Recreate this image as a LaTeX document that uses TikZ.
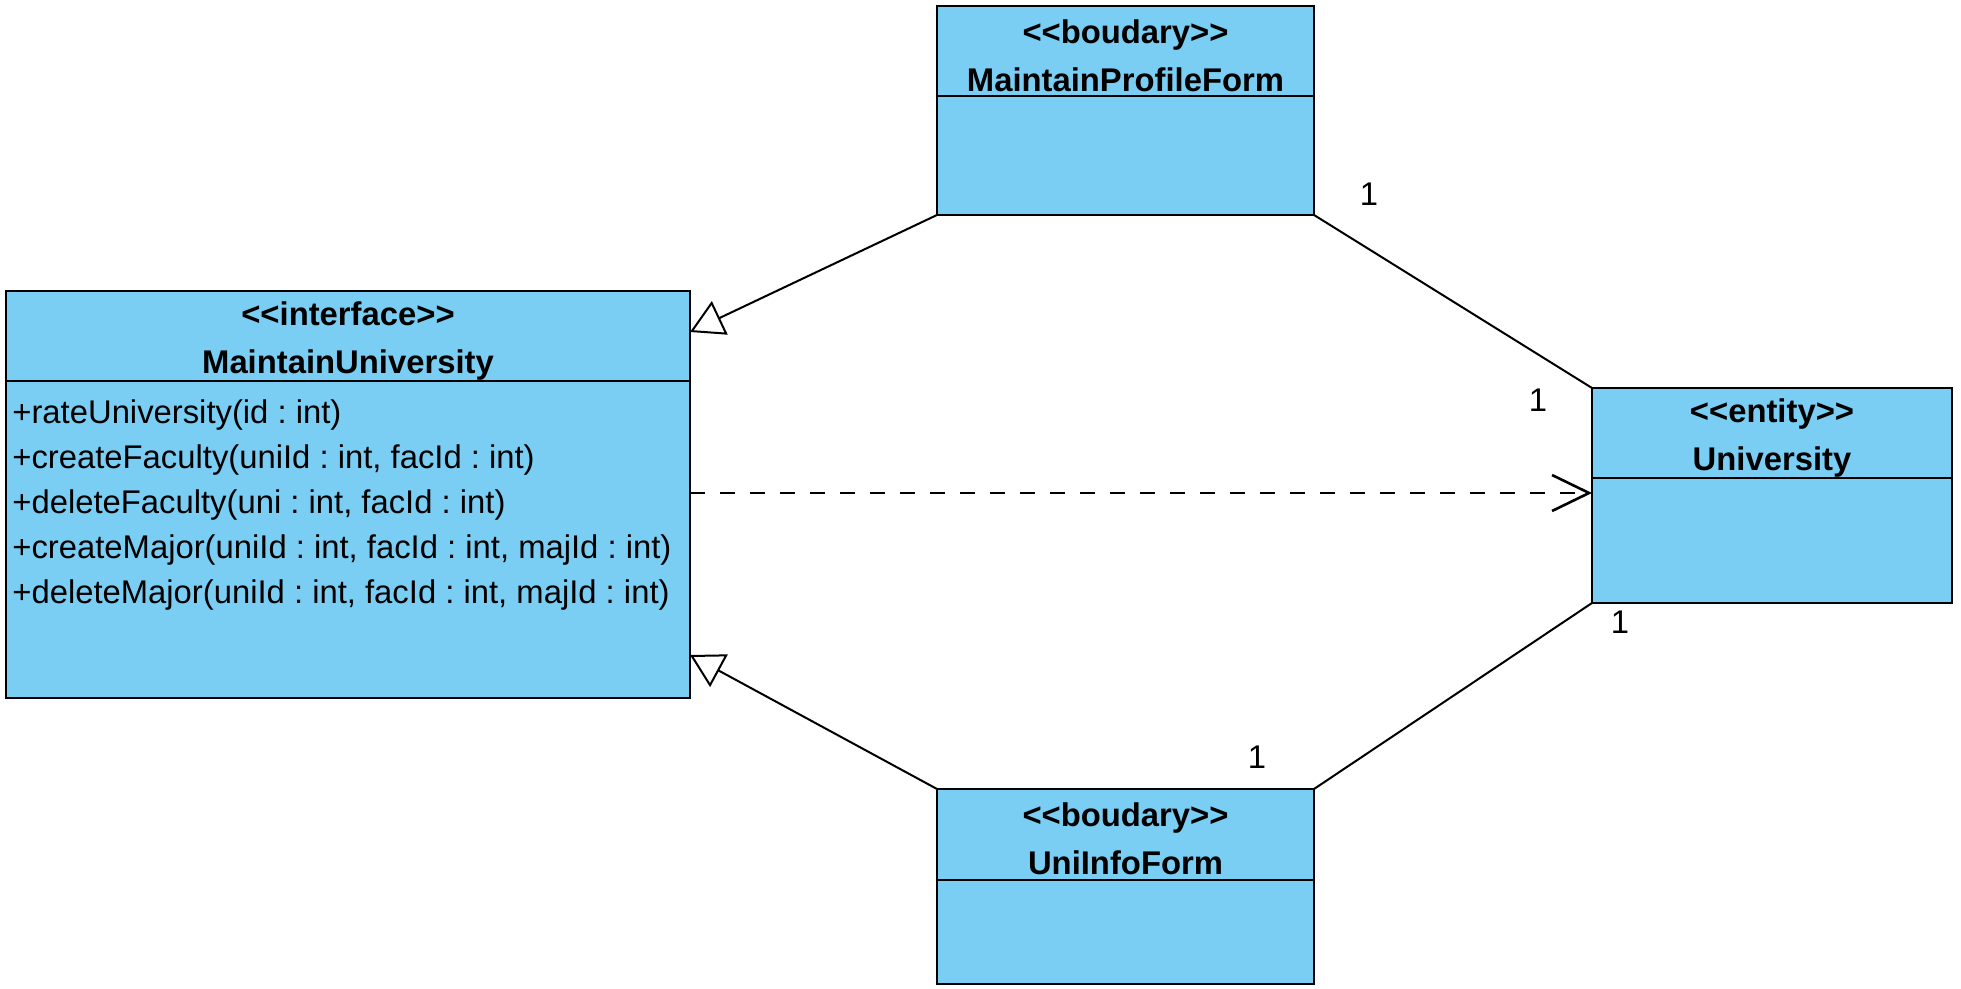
\documentclass[tikz,border=0pt]{standalone}
\usepackage{fontspec}
\setmainfont{Liberation Sans}
\usepackage{xcolor}
\usepackage{tikz}
\usetikzlibrary{arrows.meta,positioning}
\definecolor{classfill}{HTML}{7ACEF4}
\definecolor{ink}{HTML}{000000}
\newcommand{\stereo}[1]{\rule{0pt}{16.5pt}<\kern0pt<#1>\kern0pt>}
\frenchspacing

\begin{document}
\begin{tikzpicture}[x=0.5pt, y=-0.5pt,
    classhead/.style={rectangle, draw=ink, fill=classfill, line width=1.4pt,
                      inner sep=0pt, outer sep=0pt, anchor=north west, align=center,
                      font=\fontsize{16.4pt}{24pt}\selectfont\bfseries},
    classbody/.style={rectangle, draw=ink, fill=classfill, line width=1.4pt,
                      inner sep=0pt, outer sep=0pt},
    ops/.style={inner sep=0pt, anchor=north west, align=left,
                font=\fontsize{16.4pt}{22.5pt}\selectfont},
    mult/.style={inner sep=0pt, font=\fontsize{16.4pt}{16.4pt}\selectfont},
    inherit/.style={draw=ink, line width=1pt,
                    -{Triangle[open, fill=white, length=16.5pt, width=18.4pt]}},
    usage/.style={draw=ink, line width=1.3pt, dash pattern=on 7.5pt off 7.5pt,
                  -{Straight Barb[length=18.5pt, width=18pt]}},
    assoc/.style={draw=ink, line width=1pt},
]

\fill[white] (0,0) rectangle (1961,989);
\useasboundingbox (0,0) rectangle (1961,989);

\node[classhead, minimum width=342pt, minimum height=45pt] (maintuni) at (6,291) {\stereo{interface}\\MaintainUniversity};
\node[classbody, minimum width=342pt, minimum height=158.5pt, below=0pt of maintuni] (maintuni-ops) {};
\node[ops, below right=9pt and 3pt of maintuni-ops.north west] (maintuni-list)
    {+rateUniversity(id : int)\\
     +createFaculty(uniId : int, facId : int)\\
     +deleteFaculty(uni : int, facId : int)\\
     +createMajor(uniId : int, facId : int, majId : int)\\
     +deleteMajor(uniId : int, facId : int, majId : int)};

\node[classhead, minimum width=188.5pt, minimum height=45pt] (profform) at (937,6) {\stereo{boudary}\\MaintainProfileForm};
\node[classbody, minimum width=188.5pt, minimum height=59.5pt, below=0pt of profform] (profform-attr) {};

\node[classhead, minimum width=180pt, minimum height=45pt] (uni) at (1592,388) {\stereo{entity}\\University};
\node[classbody, minimum width=180pt, minimum height=62.5pt, below=0pt of uni] (uni-attr) {};

\node[classhead, minimum width=188.5pt, minimum height=45.5pt] (infoform) at (937,789) {\stereo{boudary}\\UniInfoForm};
\node[classbody, minimum width=188.5pt, minimum height=52pt, below=0pt of infoform] (infoform-attr) {};

% generalizations
\draw[inherit] (profform-attr.south west) -- ([yshift=2pt]maintuni.east);
\draw[inherit] (infoform.north west) -- ([yshift=21.5pt]maintuni-ops.south east);

% dependency
\path ([yshift=-7.5pt]uni-attr.north west) coordinate (usage-end);
\draw[usage] (maintuni-ops.east |- usage-end) -- (usage-end);

% associations
\draw[assoc] (profform-attr.south east) -- (uni.north west);
\draw[assoc] (infoform.north east) -- (uni-attr.south west);
\node[mult] (mult-prof) at (1369,194) {1};
\node[mult] (mult-uni-top) at (1538,400) {1};
\node[mult] (mult-info) at (1257,757) {1};
\node[mult] (mult-uni-bot) at (1620,622) {1};

\end{tikzpicture}
\end{document}
